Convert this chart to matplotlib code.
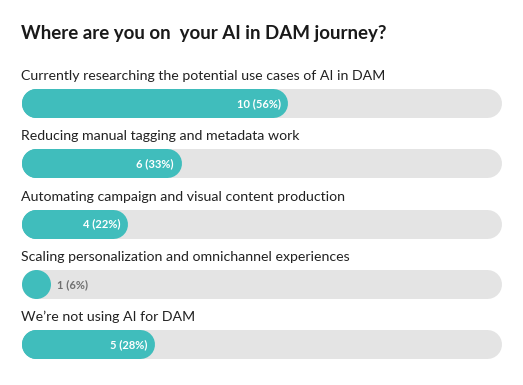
import matplotlib.pyplot as plt

plt.rcParams['font.family'] = ['Lato', 'DejaVu Sans']

title = 'Where are you on  your AI in DAM journey?'
categories = ['Currently researching the potential use cases of AI in DAM',
              'Reducing manual tagging and metadata work',
              'Automating campaign and visual content production',
              'Scaling personalization and omnichannel experiences',
              "We\u2019re not using AI for DAM"]
counts = [10, 6, 4, 1, 5]
total = 18

teal = '#40bdbc'
track = '#e4e4e4'

# figure in pixel units, y downwards
fig = plt.figure(figsize=(5.23, 3.85), dpi=100)
ax = fig.add_axes([0, 0, 1, 1])
ax.set_xlim(0, 523)
ax.set_ylim(385, 0)
ax.axis('off')

x0, x1 = 21, 501
h = 29
r = h / 2
lw = h * 72 / 100

ax.text(x0, 33, title, fontsize=13.5, fontweight='bold', color='#1a1a1a', va='center')

for i, (cat, c) in enumerate(zip(categories, counts)):
    yb = 103 + i * 60.3
    ax.text(x0, yb - 27, cat, fontsize=10.2, color='#222222', va='center')
    ax.plot([x0 + r, x1 - r], [yb, yb], color=track, lw=lw, solid_capstyle='round')
    frac = c / total
    end = x0 + frac * (x1 - x0)
    # round start cap as a marker so very short bars still show as a circle
    ax.plot([x0 + r], [yb], 'o', ms=lw, color=teal, mec='none')
    if end - r > x0 + r:
        ax.plot([x0 + r, end - r], [yb, yb], color=teal, lw=lw, solid_capstyle='round')
    lab = '%d (%d%%)' % (c, round(frac * 100))
    if end - x0 > 60:
        ax.text(end - 7, yb + 0.5, lab, fontsize=8, fontweight='bold', color='white',
                ha='right', va='center')
    else:
        ax.text(max(end, x0 + h) + 7, yb + 0.5, lab, fontsize=8, fontweight='bold',
                color='#707070', ha='left', va='center')

fig.savefig('out.png', dpi=100)
